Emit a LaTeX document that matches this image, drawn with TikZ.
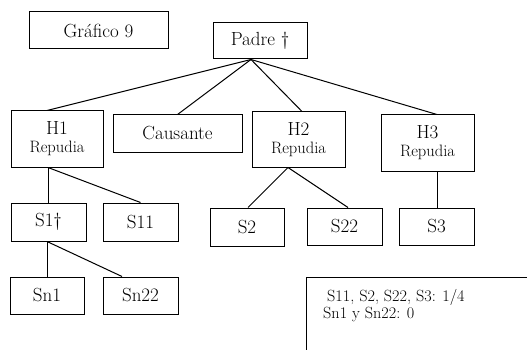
\documentclass[tikz,border=0pt]{standalone}
\begin{document}
\begin{tikzpicture}[x=1pt,y=-1pt,
  box/.style={draw, line width=1pt, inner sep=0pt, align=center, font=\fontsize{19}{19}\selectfont},
  lnk/.style={line width=1pt},
  rep/.style={}]
\newcommand{\repu}{{\fontsize{16.5}{17}\selectfont Repudia}}
\useasboundingbox (0,0) rectangle (527,350);
\node[box, minimum width=139pt, minimum height=37pt] (graf) at (98.5,30.5) {Gráfico 9};
\node[box, minimum width=94pt, minimum height=36pt] (padre) at (260,41) {Padre \textdagger};
\node[box, minimum width=92pt, minimum height=56pt] (h1) at (57,139) {H1\\[-1pt]\repu};
\node[box, minimum width=129pt, minimum height=37pt] (caus) at (177.5,133.5) {Causante};
\node[box, minimum width=93pt, minimum height=55pt] (h2) at (298.5,139.5) {H2\\[-1pt]\repu};
\node[box, minimum width=93pt, minimum height=56pt] (h3) at (427.5,143) {H3\\[-1pt]\repu};
\node[box, minimum width=75pt, minimum height=38pt] (s1) at (48.5,222) {S1\textdagger};
\node[box, minimum width=75pt, minimum height=38pt] (s11) at (140.5,222) {S11};
\node[box, minimum width=74pt, minimum height=38pt] (s2) at (247,227) {S2};
\node[box, minimum width=75pt, minimum height=37pt] (s22) at (344.5,226.5) {S22};
\node[box, minimum width=75pt, minimum height=37pt] (s3) at (436.5,226.5) {S3};
\node[box, minimum width=74pt, minimum height=37pt] (sn1) at (47,295.5) {Sn1};
\node[box, minimum width=75pt, minimum height=37pt] (sn22) at (140.5,295.5) {Sn22};
\coordinate (pb) at ([xshift=-9pt]padre.south);
\draw[lnk] (pb) -- ([xshift=-10pt]h1.north);
\draw[lnk] (pb) -- (caus.north);
\draw[lnk] (pb) -- ([xshift=3.5pt]h2.north);
\draw[lnk] (pb) -- ([xshift=9.5pt]h3.north);
\draw[lnk] ([xshift=-9pt]h1.south) -- ([xshift=-0.5pt]s1.north);
\draw[lnk] ([xshift=-9pt]h1.south) -- (s11.north);
\draw[lnk] ([xshift=-10.5pt]h2.south) -- ([xshift=1pt]s2.north);
\draw[lnk] ([xshift=-10.5pt]h2.south) -- ([xshift=3.5pt]s22.north);
\draw[lnk] ([xshift=9.5pt]h3.south) -- ([xshift=0.5pt]s3.north);
\draw[lnk] ([xshift=-1.5pt]s1.south) -- (sn1.north);
\draw[lnk] ([xshift=-1.5pt]s1.south) -- ([xshift=-18.5pt]sn22.north);
\coordinate (nbl) at (306,350);
\coordinate (ntl) at (306,277);
\coordinate (ntr) at (527,277);
\draw[lnk] (nbl) -- (ntl) -- (ntr);
\node[anchor=base west, font=\fontsize{16.2}{17}\selectfont, inner sep=0pt] (n1) at (327,301) {S11, S2, S22, S3: 1/4};
\node[anchor=base west, font=\fontsize{16.2}{17}\selectfont, inner sep=0pt] (n2) at (323,318) {Sn1 y Sn22: 0};
\end{tikzpicture}
\end{document}
